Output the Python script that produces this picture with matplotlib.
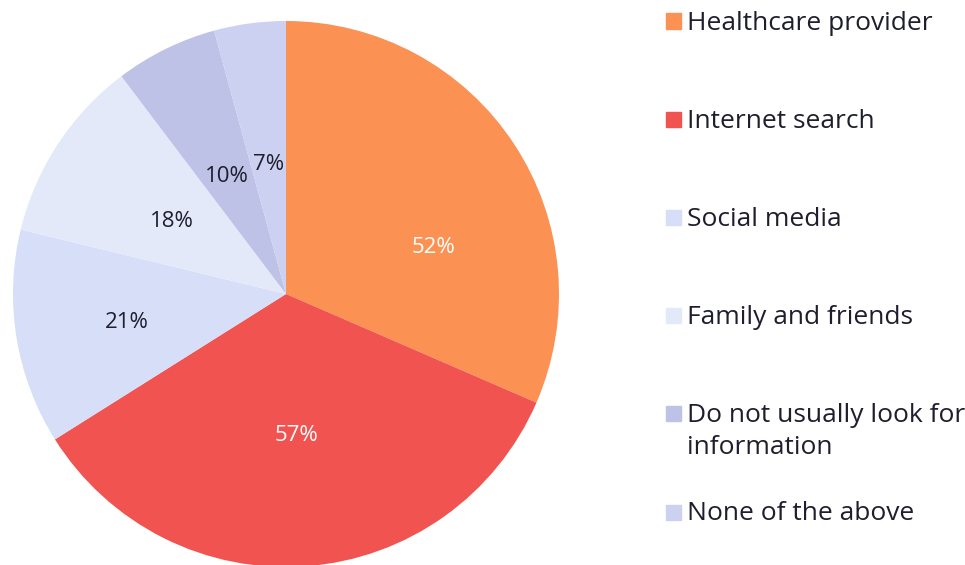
import matplotlib
matplotlib.use("Agg")
import matplotlib.pyplot as plt
from matplotlib.patches import Rectangle
import numpy as np

categories = ["Healthcare provider", "Internet search", "Social media",
              "Family and friends", "Do not usually look for\ninformation",
              "None of the above"]
values = [52, 57, 21, 18, 10, 7]
colors = ["#FB9153", "#F05350", "#D6DEF8", "#E4E9FA", "#BDC2E6", "#CCD1F1"]
label_colors = ["white", "white", "#1E1E2E", "#1E1E2E", "#1E1E2E", "#1E1E2E"]
# where each % label sits: fraction of radius, fraction along the wedge arc
label_r = [0.57, 0.51, 0.59, 0.50, 0.49, 0.49]
label_t = [0.63, 0.5, 0.5, 0.5, 0.5, 0.5]

TXT = "#1E1E2E"
plt.rcParams["font.family"] = ["Open Sans", "DejaVu Sans"]

W, H = 965, 565
fig = plt.figure(figsize=(W / 100, H / 100), dpi=100)

cx, cy, R = 286, 294, 273
ax = fig.add_axes([(cx - R) / W, (H - cy - R) / H, 2 * R / W, 2 * R / H])
wedges, _ = ax.pie(values, colors=colors, startangle=90, counterclock=False,
                   radius=1, wedgeprops=dict(linewidth=0))
ax.set_xlim(-1, 1)
ax.set_ylim(-1, 1)
ax.axis("off")

for w, v, c, r, t in zip(wedges, values, label_colors, label_r, label_t):
    # clockwise pie: theta2 is the start, theta1 the end
    ang = np.deg2rad(w.theta2 + (w.theta1 - w.theta2) * t)
    ax.text(r * np.cos(ang), r * np.sin(ang) - 0.01, f"{v}%", color=c,
            fontsize=16, ha="center", va="center")

# legend, drawn by hand so the wrapped item keeps its square on the first line
row0, row_gap, line_gap = 21, 98.2, 32
sq = 15
for i, (lab, col) in enumerate(zip(categories, colors)):
    y = row0 + i * row_gap
    fig.patches.append(Rectangle((666 / W, (H - y - sq / 2) / H), sq / W, sq / H,
                                 transform=fig.transFigure, color=col))
    for j, line in enumerate(lab.split("\n")):
        fig.text(687 / W, (H - y - j * line_gap - 2) / H, line, color=TXT,
                 fontsize=19, ha="left", va="center")

fig.savefig("out.png", dpi=100)
